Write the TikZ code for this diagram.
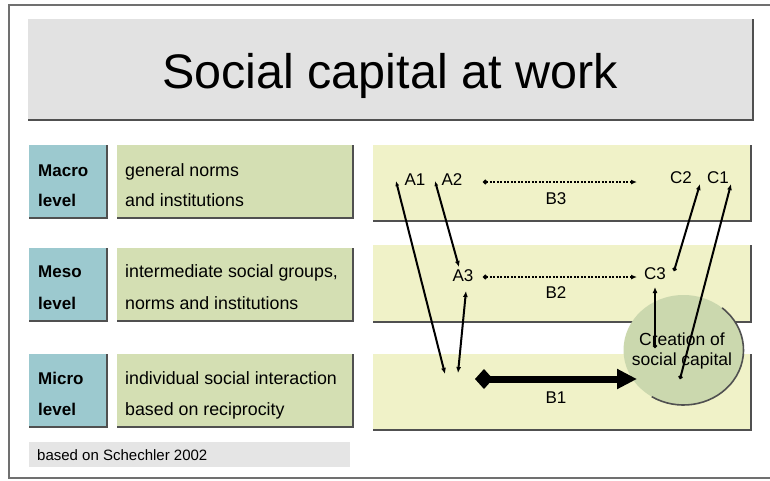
\documentclass[tikz,border=0pt]{standalone}
\usepackage{fontspec}
\setmainfont{Liberation Sans}
\usetikzlibrary{arrows.meta,shapes.geometric}
\definecolor{titlegray}{HTML}{E2E2E2}
\definecolor{levelblue}{HTML}{9CC9CF}
\definecolor{descgreen}{HTML}{D4DFB3}
\definecolor{bandyellow}{HTML}{F0F2C8}
\definecolor{circlegreen}{HTML}{CBD8AE}
\definecolor{notegray}{HTML}{E5E5E5}
\definecolor{shade}{HTML}{505050}
\definecolor{framegray}{HTML}{707070}
\begin{document}
\begin{tikzpicture}[x=1pt,y=-1pt,
  panel/.style={draw=none, inner sep=0pt, outer sep=0pt},
  shadowline/.style={draw=shade, line width=1.6pt},
  lvltext/.style={font=\fontsize{17}{20}\selectfont\bfseries, anchor=base west, inner sep=0pt},
  desctext/.style={font=\fontsize{17.8}{20}\selectfont, anchor=base west, inner sep=0pt},
  lbl/.style={font=\fontsize{17}{20}\selectfont, inner sep=0pt},
  conn/.style={line width=2pt, draw=black},
  dotconn/.style={line width=2.2pt, dash pattern=on 2pt off 1.5pt, draw=black},
]
\useasboundingbox (0,0) rectangle (770,480);
\fill[white] (0,0) rectangle (770,480);
\draw[framegray, line width=1.5pt] (9,5) rectangle (785,478);

% title
\node[panel, fill=titlegray, minimum width=725pt, minimum height=101pt] (title) at (390.5,69.5) {};
\draw[shadowline] (title.north east) -- (title.south east) -- (title.south west);
\node[font=\fontsize{48.5}{56}\selectfont, anchor=base, inner sep=0pt] (titletext) at (390,88) {Social capital at work};

% left column boxes
\foreach \nm/\cy in {macro/181.5, meso/284.5, micro/390.5}{
  \node[panel, fill=levelblue, minimum width=78pt, minimum height=73pt] (\nm lvl) at (68,\cy) {};
  \draw[shadowline] (\nm lvl.north east) -- (\nm lvl.south east) -- (\nm lvl.south west);
  \node[panel, fill=descgreen, minimum width=236pt, minimum height=73pt] (\nm desc) at (235,\cy) {};
  \draw[shadowline] (\nm desc.north east) -- (\nm desc.south east) -- (\nm desc.south west);
}
\node[lvltext] (t1) at (38,176) {Macro};
\node[lvltext] (t2) at (38,206) {level};
\node[desctext] (t3) at (125,176) {general norms};
\node[desctext] (t4) at (125,206) {and institutions};
\node[lvltext] (t5) at (38,277) {Meso};
\node[lvltext] (t6) at (38,309) {level};
\node[desctext] (t7) at (125,277) {intermediate social groups,};
\node[desctext] (t8) at (125,309) {norms and institutions};
\node[lvltext] (t9) at (38,384) {Micro};
\node[lvltext] (t10) at (38,415) {level};
\node[desctext] (t11) at (125,384) {individual social interaction};
\node[desctext] (t12) at (125,415) {based on reciprocity};

% note
\node[panel, fill=notegray, minimum width=321pt, minimum height=25pt] (note) at (189.5,454.5) {};
\node[font=\fontsize{15}{18}\selectfont, anchor=base west, inner sep=0pt] (notetext) at (37,460) {based on Schechler 2002};

% right bands
\foreach \nm/\cy/\h in {bandtop/183/76, bandmid/283.5/77, bandbot/392/76}{
  \node[panel, fill=bandyellow, minimum width=378pt, minimum height=\h pt] (\nm) at (562,\cy) {};
  \draw[shadowline] (\nm.north east) -- (\nm.south east) -- (\nm.south west);
}

% circle
\node[ellipse, panel, fill=circlegreen, minimum width=120pt, minimum height=110pt] (circ) at (683.5,350) {};
\draw[shadowline] ([shift={(-50:60 and 55)}]circ.center) arc[start angle=-50, end angle=122, x radius=60, y radius=55];
\node[align=center, inner sep=0pt, font=\fontsize{17.5}{20}\selectfont] (circtext) at (682,351) {Creation of\\social capital};

% labels
\node[lbl] (A1) at (415,180) {A1};
\node[lbl] (A2) at (452,180) {A2};
\node[lbl] (B3) at (556,199) {B3};
\node[lbl] (C2) at (681,178) {C2};
\node[lbl] (C1) at (718,178) {C1};
\node[lbl] (A3) at (463,276) {A3};
\node[lbl] (B2) at (556,293) {B2};
\node[lbl] (C3) at (655,274) {C3};
\node[lbl] (B1) at (556,398) {B1};

% connector end points
\coordinate (a1top) at (396,181);
\coordinate (a1bot) at (445,374);
\coordinate (a2top) at (435,181);
\coordinate (a3in) at (459,267);
\coordinate (a3out) at (466,291);
\coordinate (a3bot) at (458,373);
\coordinate (b3s) at (483,182);
\coordinate (b3e) at (637,182);
\coordinate (b2s) at (483,277);
\coordinate (b2e) at (637,277);
\coordinate (b1s) at (475,379);
\coordinate (b1e) at (637,379);
\coordinate (c3s) at (674,271);
\coordinate (c2in) at (700,184);
\coordinate (c3up) at (655,287);
\coordinate (c3bot) at (655,348);
\coordinate (c1s) at (680,379);
\coordinate (c1in) at (731,184);

% connectors
\draw[conn, {Latex[length=5pt,width=4pt]}-{Latex[length=6pt,width=5pt]}] (a1top) -- (a1bot);
\draw[conn, {Latex[length=5pt,width=4pt]}-{Latex[length=6pt,width=5pt]}] (a2top) -- (a3in);
\draw[conn, {Latex[length=6pt,width=5pt]}-{Latex[length=6pt,width=5pt]}] (a3bot) -- (a3out);
\draw[dotconn, {Circle[length=4.5pt]}-{Latex[length=6pt,width=5pt]}] (b3s) -- (b3e);
\draw[dotconn, {Circle[length=4.5pt]}-{Latex[length=6pt,width=5pt]}] (b2s) -- (b2e);
\draw[line width=7pt, {Diamond[length=18pt,width=20pt]}-{Triangle[length=20pt,width=19pt]}] (b1s) -- (b1e);
\draw[conn, {Circle[length=4pt]}-{Latex[length=6pt,width=5pt]}] (c3s) -- (c2in);
\draw[conn, {Circle[length=4pt]}-{Latex[length=6pt,width=5pt]}] (c3bot) -- (c3up);
\draw[conn, {Circle[length=4pt]}-{Latex[length=6pt,width=5pt]}] (c1s) -- (c1in);
\end{tikzpicture}
\end{document}
